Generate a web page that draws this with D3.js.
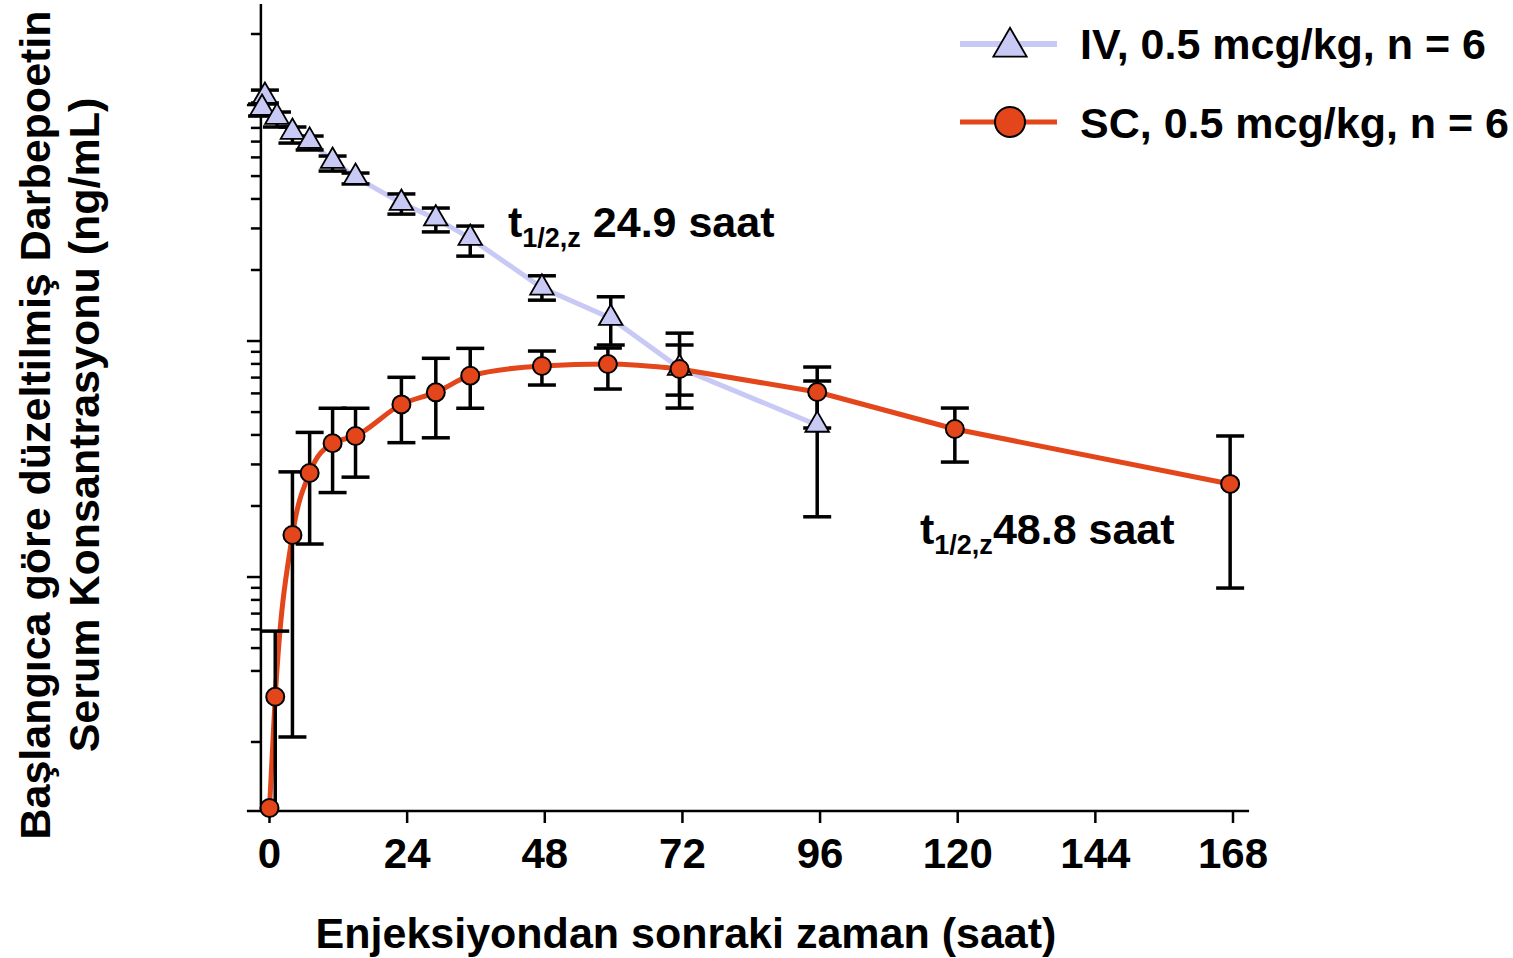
<!DOCTYPE html>
<html>
<head>
<meta charset="utf-8">
<script src="https://cdn.jsdelivr.net/npm/d3@7"></script>
<style>
  html, body { margin: 0; padding: 0; background: #ffffff; }
  svg { display: block; }
  text { font-family: "Liberation Sans", Arial, Helvetica, sans-serif; font-weight: bold; fill: #000; }
</style>
</head>
<body>
<svg id="chart" width="1513" height="958"></svg>
<script>
// ---- Data ----
const xTickValues = [0, 24, 48, 72, 96, 120, 144, 168];
const yMajorTicks = [1, 10, 100];
const yMinorTicks = [0.2, 0.4, 0.5, 0.6, 0.7, 0.8, 0.9,
                     2, 3, 4, 5, 6, 7, 8, 9,
                     20, 30, 40, 50, 60, 70, 80, 90, 200];

const ivHours = [-0.8, -1.3, 1.3, 4, 7, 11, 15, 23, 29, 35, 47.5, 59.5, 71.5, 95.5];
const ivConc  = [109.2, 97.1, 89.0, 76.8, 70.4, 57.9, 49.5, 38.4, 33.0, 27.3, 16.8, 12.5, 7.68, 4.41];
const ivUpper = [115.7, 101.0, 93.4, 80.7, 73.9, 60.8, 51.5, 42.0, 36.6, 30.7, 18.9, 15.4, 9.62, 6.77];
const ivLower = [102.0, 89.8, 80.7, 69.0, 64.5, 52.5, 46.3, 34.5, 29.0, 22.9, 14.9, 9.62, 5.90, 1.80];

const scHours = [0, 1, 4, 7, 11, 15, 23, 29, 35, 47.5, 59, 71.5, 95.5, 119.5, 167.5];
const scConc  = [0.105, 0.311, 1.507, 2.76, 3.69, 3.96, 5.39, 6.06, 7.13, 7.84, 7.99, 7.61, 6.08, 4.24, 2.48];
const scUpper = [null, 0.590, 2.79, 4.10, 5.19, 5.19, 7.02, 8.45, 9.31, 9.07, 9.34, 10.8, 7.76, 5.20, 3.96];
const scLower = [null, 0.102, 0.210, 1.38, 2.28, 2.65, 3.71, 3.89, 5.19, 6.51, 6.26, 5.20, 4.28, 3.07, 0.898];

const seriesLabels = ["IV, 0.5 mcg/kg, n = 6", "SC, 0.5 mcg/kg, n = 6"];
const xTitle = "Enjeksiyondan sonraki zaman (saat)";
const yTitle = ["Başlangıca göre düzeltilmiş Darbepoetin", "Serum Konsantrasyonu (ng/mL)"];
const annoIV = ["t", "1/2,z", " 24.9 saat"];
const annoSC = ["t", "1/2,z", "48.8 saat"];

// ---- Styles ----
const IV_COLOR = "#c9c9f6";
const SC_COLOR = "#e2461a";
const FONT = 43;

const svg = d3.select("#chart");

const x = d3.scaleLinear().domain([0, 168]).range([269.5, 1233]);
const y = d3.scaleLog().domain([0.102, 268]).range([811, 4]);

const xAxisStart = -1.5, xAxisEnd = 170.8;
const axisX = x(xAxisStart);
const axisY = y(0.102);

// ---- Y axis ----
const gY = svg.append("g");
gY.append("line").attr("x1", axisX).attr("x2", axisX).attr("y1", y(268)).attr("y2", axisY)
  .attr("stroke", "#000").attr("stroke-width", 2.5);
gY.selectAll("line.major").data(yMajorTicks).join("line").attr("class", "major")
  .attr("x1", axisX - 14).attr("x2", axisX).attr("y1", d => y(d)).attr("y2", d => y(d))
  .attr("stroke", "#000").attr("stroke-width", 2.5);
gY.selectAll("line.minor").data(yMinorTicks).join("line").attr("class", "minor")
  .attr("x1", axisX - 10).attr("x2", axisX).attr("y1", d => y(d)).attr("y2", d => y(d))
  .attr("stroke", "#000").attr("stroke-width", 2.5);

// ---- X axis ----
const gX = svg.append("g");
gX.append("line").attr("x1", axisX - 14).attr("x2", x(xAxisEnd)).attr("y1", axisY).attr("y2", axisY)
  .attr("stroke", "#000").attr("stroke-width", 2.5);
gX.selectAll("line.tick").data(xTickValues).join("line").attr("class", "tick")
  .attr("x1", d => x(d)).attr("x2", d => x(d)).attr("y1", axisY).attr("y2", axisY + 12)
  .attr("stroke", "#000").attr("stroke-width", 2.5);
gX.selectAll("text").data(xTickValues).join("text")
  .attr("x", d => x(d)).attr("y", 868).attr("text-anchor", "middle")
  .attr("font-size", 42).text(d => d);

// ---- Titles ----
svg.append("text").attr("x", 686).attr("y", 948).attr("text-anchor", "middle")
  .attr("font-size", FONT).text(xTitle);
svg.append("text").attr("transform", "translate(50,425) rotate(-90)").attr("text-anchor", "middle")
  .attr("font-size", FONT).text(yTitle[0]);
svg.append("text").attr("transform", "translate(99,425) rotate(-90)").attr("text-anchor", "middle")
  .attr("font-size", FONT).text(yTitle[1]);

// ---- Data structures ----
const iv = ivHours.map((h, i) => ({h, c: ivConc[i], up: ivUpper[i], lo: ivLower[i]}));
const sc = scHours.map((h, i) => ({h, c: scConc[i], up: scUpper[i], lo: scLower[i]}));

// ---- Lines ----
const ivLine = d3.line().x(d => x(d.h)).y(d => y(d.c));
svg.append("path").datum(iv).attr("d", ivLine).attr("fill", "none")
  .attr("stroke", IV_COLOR).attr("stroke-width", 5);
// SC: smooth through the absorption phase, straight in the elimination phase
const scSmooth = d3.line().x(d => x(d.h)).y(d => y(d.c)).curve(d3.curveMonotoneX);
const scStraight = d3.line().x(d => x(d.h)).y(d => y(d.c));
const splitH = 71.5;
svg.append("path").datum(sc.filter(d => d.h <= splitH)).attr("d", scSmooth).attr("fill", "none")
  .attr("stroke", SC_COLOR).attr("stroke-width", 5).attr("stroke-linejoin", "round");
svg.append("path").datum(sc.filter(d => d.h >= splitH)).attr("d", scStraight).attr("fill", "none")
  .attr("stroke", SC_COLOR).attr("stroke-width", 5).attr("stroke-linejoin", "round");

// ---- Error bars ----
function errorBars(data) {
  const g = svg.append("g").attr("stroke", "#000").attr("stroke-width", 3.5);
  const d2 = data.filter(d => d.up != null);
  g.selectAll("line.v").data(d2).join("line").attr("class", "v")
    .attr("x1", d => x(d.h)).attr("x2", d => x(d.h))
    .attr("y1", d => y(d.up)).attr("y2", d => y(d.lo));
  g.selectAll("line.t").data(d2).join("line").attr("class", "t")
    .attr("x1", d => x(d.h) - 14).attr("x2", d => x(d.h) + 14)
    .attr("y1", d => y(d.up)).attr("y2", d => y(d.up));
  g.selectAll("line.b").data(d2.filter(d => d.lo > 0.105)).join("line").attr("class", "b")
    .attr("x1", d => x(d.h) - 14).attr("x2", d => x(d.h) + 14)
    .attr("y1", d => y(d.lo)).attr("y2", d => y(d.lo));
}
errorBars(iv);
errorBars(sc);

// ---- Markers ----
const tri = d3.symbol().type(d3.symbolTriangle).size(240);
svg.selectAll("path.iv").data(iv).join("path").attr("class", "iv")
  .attr("d", tri).attr("transform", d => `translate(${x(d.h)},${y(d.c)})`)
  .attr("fill", IV_COLOR).attr("stroke", "#000").attr("stroke-width", 1.8);
svg.selectAll("circle.sc").data(sc).join("circle").attr("class", "sc")
  .attr("cx", d => x(d.h)).attr("cy", d => y(d.c)).attr("r", 9)
  .attr("fill", SC_COLOR).attr("stroke", "#000").attr("stroke-width", 2);

// ---- Annotations ----
function anno(px, py, parts) {
  const t = svg.append("text").attr("x", px).attr("y", py).attr("font-size", FONT);
  t.append("tspan").text(parts[0]);
  t.append("tspan").attr("font-size", 27).attr("dy", 10).text(parts[1]);
  t.append("tspan").attr("dy", -10).text(parts[2]);
}
anno(508, 237, annoIV);
anno(920, 544, annoSC);

// ---- Legend ----
const lg = svg.append("g");
lg.append("line").attr("x1", 960).attr("x2", 1057).attr("y1", 44).attr("y2", 44)
  .attr("stroke", IV_COLOR).attr("stroke-width", 6);
lg.append("path").attr("d", d3.symbol().type(d3.symbolTriangle).size(480)())
  .attr("transform", "translate(1010,47)").attr("fill", IV_COLOR).attr("stroke", "#000").attr("stroke-width", 1.8);
lg.append("line").attr("x1", 960).attr("x2", 1057).attr("y1", 122).attr("y2", 122)
  .attr("stroke", SC_COLOR).attr("stroke-width", 5);
lg.append("circle").attr("cx", 1010).attr("cy", 122).attr("r", 15)
  .attr("fill", SC_COLOR).attr("stroke", "#000").attr("stroke-width", 2);
lg.append("text").attr("x", 1080).attr("y", 59).attr("font-size", FONT).text(seriesLabels[0]);
lg.append("text").attr("x", 1080).attr("y", 138).attr("font-size", FONT).text(seriesLabels[1]);
</script>
</body>
</html>
